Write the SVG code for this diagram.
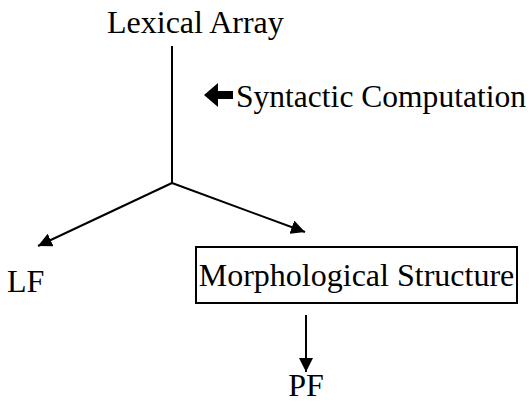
<svg xmlns="http://www.w3.org/2000/svg" width="531" height="402" viewBox="0 0 531 402">
  <style>
    .lbl { font-family: "Liberation Serif", "Times New Roman", serif; font-size: 32px; fill: #000; }
    .edge { stroke: #000; stroke-width: 2; fill: none; }
    .box { stroke: #000; stroke-width: 2; fill: #fff; }
  </style>
  <defs>
    <marker id="head" viewBox="0 0 10 10" refX="10" refY="5" markerWidth="7" markerHeight="7" markerUnits="strokeWidth" orient="auto">
      <path d="M0,0 L10,5 L0,10 Z" fill="#000"/>
    </marker>
  </defs>
  <rect width="531" height="402" fill="#fff"/>

  <g id="connectors">
    <line class="edge" x1="172" y1="46" x2="172" y2="183"/>
    <line class="edge" x1="172" y1="183" x2="38" y2="246" marker-end="url(#head)"/>
    <line class="edge" x1="172" y1="183" x2="305" y2="232" marker-end="url(#head)"/>
    <line class="edge" x1="306" y1="315" x2="306" y2="372" marker-end="url(#head)"/>
  </g>

  <g id="lexical-array">
    <text class="lbl" x="107" y="33">Lexical Array</text>
  </g>

  <g id="syntactic-computation">
    <polygon points="204,95 218,83 218,91 233,91 233,99 218,99 218,107" fill="#000"/>
    <text class="lbl" x="236" y="107" textLength="290" lengthAdjust="spacingAndGlyphs">Syntactic Computation</text>
  </g>

  <g id="lf">
    <text class="lbl" x="7" y="292">LF</text>
  </g>

  <g id="morphological-structure">
    <rect class="box" x="196" y="247" width="321" height="56"/>
    <text class="lbl" x="356.5" y="286" text-anchor="middle">Morphological Structure</text>
  </g>

  <g id="pf">
    <text class="lbl" x="306" y="396" text-anchor="middle">PF</text>
  </g>
</svg>
